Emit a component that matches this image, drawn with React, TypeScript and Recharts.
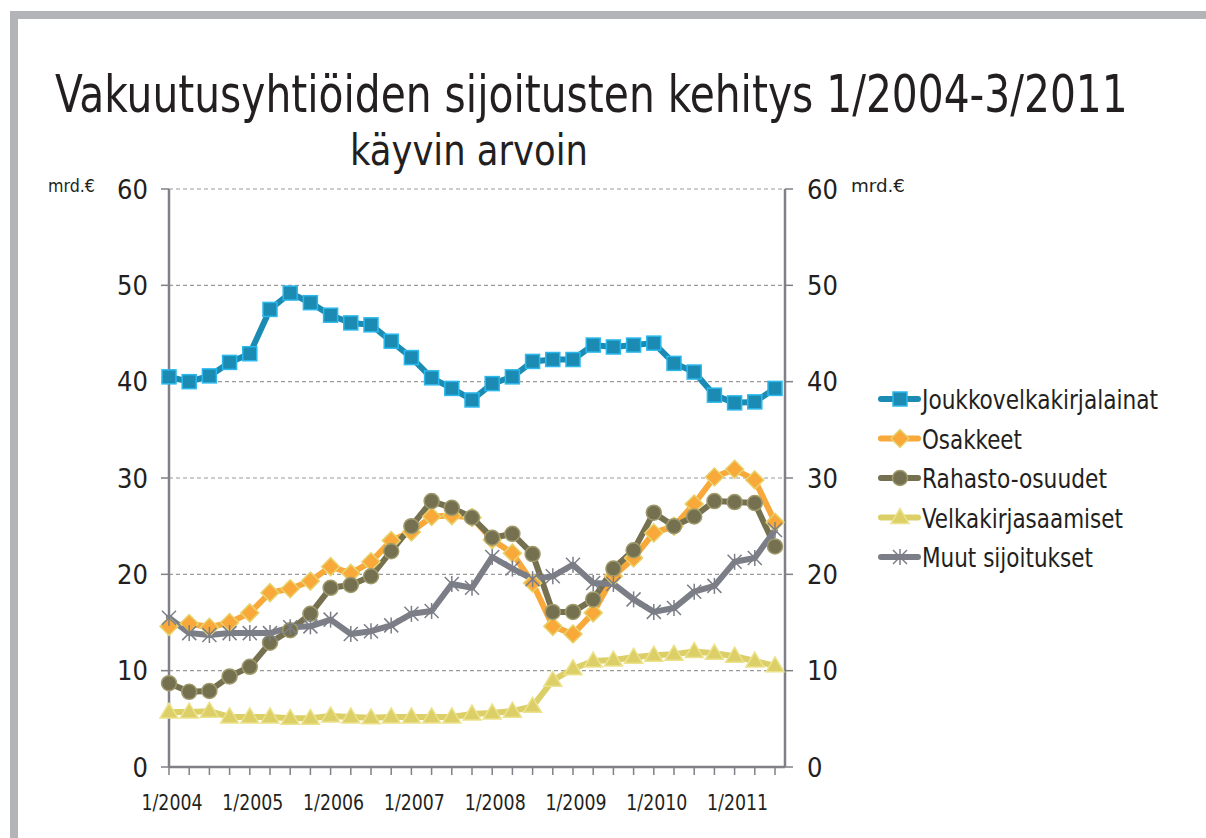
import { useLayoutEffect, useRef, useState } from 'react';
import { CartesianGrid, Line, LineChart, XAxis, YAxis } from 'recharts';

const quarters = [
  '1/2004', '2/2004', '3/2004', '4/2004',
  '1/2005', '2/2005', '3/2005', '4/2005',
  '1/2006', '2/2006', '3/2006', '4/2006',
  '1/2007', '2/2007', '3/2007', '4/2007',
  '1/2008', '2/2008', '3/2008', '4/2008',
  '1/2009', '2/2009', '3/2009', '4/2009',
  '1/2010', '2/2010', '3/2010', '4/2010',
  '1/2011', '2/2011', '3/2011'
];

const joukko = [40.5, 40.0, 40.6, 42.0, 42.9, 47.5, 49.2, 48.2, 46.9, 46.1, 45.9, 44.2, 42.5, 40.4, 39.3, 38.1, 39.8, 40.5, 42.1, 42.3, 42.3, 43.8, 43.6, 43.8, 44.0, 41.9, 41.0, 38.6, 37.8, 37.9, 39.3];
const osakkeet = [14.6, 14.9, 14.5, 15.0, 16.0, 18.1, 18.5, 19.3, 20.8, 20.1, 21.3, 23.5, 24.4, 26.0, 26.1, 25.9, 23.6, 22.2, 19.1, 14.6, 13.8, 16.0, 19.8, 21.7, 24.3, 25.0, 27.3, 30.1, 30.9, 29.8, 25.4];
const rahasto = [8.7, 7.8, 7.9, 9.4, 10.4, 12.9, 14.2, 15.9, 18.6, 18.9, 19.8, 22.4, 25.0, 27.6, 26.9, 25.9, 23.8, 24.2, 22.1, 16.1, 16.1, 17.4, 20.6, 22.5, 26.4, 25.0, 26.0, 27.6, 27.5, 27.4, 22.9];
const velka = [5.7, 5.7, 5.8, 5.2, 5.2, 5.2, 5.05, 5.05, 5.3, 5.2, 5.1, 5.2, 5.2, 5.2, 5.2, 5.5, 5.6, 5.8, 6.3, 9.0, 10.2, 11.0, 11.1, 11.4, 11.6, 11.7, 12.0, 11.8, 11.5, 11.0, 10.5];
const muut = [15.5, 13.9, 13.7, 13.9, 13.9, 13.9, 14.5, 14.6, 15.3, 13.8, 14.1, 14.7, 15.9, 16.2, 19.0, 18.6, 21.8, 20.6, 19.5, 19.8, 21.0, 19.1, 19.0, 17.4, 16.1, 16.5, 18.2, 18.8, 21.3, 21.7, 24.6];

const yTicks = [0, 10, 20, 30, 40, 50, 60];

const data = quarters.map((q, i) => ({
  q,
  joukko: joukko[i],
  osakkeet: osakkeet[i],
  rahasto: rahasto[i],
  velka: velka[i],
  muut: muut[i]
}));

const font = '"DejaVu Sans Condensed", "DejaVu Sans", sans-serif';
const ink = '#231f20';
const axisGray = '#808086';

const blue = '#1b8bb3';
const orange = '#f9a83a';
const olive = '#75704f';
const yellow = '#dccf67';
const gray = '#7c7e87';

type Shape = 'square' | 'diamond' | 'circle' | 'triangle' | 'star';

function Marker({ shape, cx, cy }: { shape: Shape; cx: number; cy: number }) {
  if (shape === 'square') {
    return <rect x={cx - 7} y={cy - 7} width={14} height={14} fill={blue} stroke="#2bb8ec" strokeWidth={1.5} />;
  }
  if (shape === 'diamond') {
    return <path d={`M${cx},${cy - 9}L${cx + 9},${cy}L${cx},${cy + 9}L${cx - 9},${cy}Z`} fill={orange} stroke="#e6d36c" strokeWidth={1.5} />;
  }
  if (shape === 'circle') {
    return <circle cx={cx} cy={cy} r={7.5} fill={olive} stroke="#9e9a6c" strokeWidth={1.5} />;
  }
  if (shape === 'triangle') {
    return <path d={`M${cx},${cy - 9}L${cx + 9},${cy + 6}L${cx - 9},${cy + 6}Z`} fill={yellow} stroke="#ece28c" strokeWidth={1.5} />;
  }
  return (
    <g stroke={gray} strokeWidth={1.5}>
      <line x1={cx - 7} y1={cy - 7} x2={cx + 7} y2={cy + 7} />
      <line x1={cx - 7} y1={cy + 7} x2={cx + 7} y2={cy - 7} />
      <line x1={cx} y1={cy - 8} x2={cx} y2={cy + 8} />
    </g>
  );
}

const dotFor = (shape: Shape) => (props: any) => (
  <Marker key={`${shape}-${props.index}`} shape={shape} cx={props.cx} cy={props.cy} />
);

const series: { key: string; name: string; color: string; shape: Shape; axis: string; w: number }[] = [
  { key: 'joukko', name: 'Joukkovelkakirjalainat', color: blue, shape: 'square', axis: 'left', w: 236 },
  { key: 'osakkeet', name: 'Osakkeet', color: orange, shape: 'diamond', axis: 'left', w: 100 },
  { key: 'rahasto', name: 'Rahasto-osuudet', color: olive, shape: 'circle', axis: 'left', w: 185 },
  { key: 'velka', name: 'Velkakirjasaamiset', color: yellow, shape: 'triangle', axis: 'left', w: 201 },
  { key: 'muut', name: 'Muut sijoitukset', color: gray, shape: 'star', axis: 'right', w: 171 }
];

// scales a text horizontally so that it fills the given width
function FitText({ x, y, width, fontSize, children }: { x: number; y: number; width: number; fontSize: number; children: string }) {
  const ref = useRef<SVGTextElement>(null);
  const [sx, setSx] = useState(1);
  useLayoutEffect(() => {
    if (ref.current) {
      const w = ref.current.getComputedTextLength();
      if (w > 0) setSx(width / w);
    }
  }, [width]);
  return (
    <text ref={ref} transform={`translate(${x},${y}) scale(${sx},1)`} fontFamily={font} fontSize={fontSize} fill={ink}>
      {children}
    </text>
  );
}

function XTick({ x, y, payload }: any) {
  const v: string = payload.value;
  if (!v.startsWith('1/')) return <g />;
  return (
    <text x={x + 3} y={y + 33} textAnchor="middle" fontFamily={font} fontSize={22} fill={ink} textLength={61} lengthAdjust="spacingAndGlyphs">
      {v}
    </text>
  );
}

function YTick({ x, y, payload, textAnchor }: any) {
  return (
    <text x={x} y={y} dy="0.36em" textAnchor={textAnchor} fontFamily={font} fontSize={27} fill={ink}>
      {payload.value}
    </text>
  );
}

export default function App() {
  return (
    <div style={{ position: 'absolute', left: 0, top: 0, width: 1206, height: 838, background: '#fff', overflow: 'hidden' }}>
      <div style={{ position: 'absolute', left: 10, top: 11, right: 0, bottom: 0, borderTop: '8px solid #b3b4b7', borderLeft: '8px solid #b3b4b7' }} />
      <div style={{ position: 'absolute', left: 0, top: 0 }}>
        <LineChart width={1206} height={838} data={data} margin={{ top: 189, right: 361, bottom: 31, left: 0 }}>
          <CartesianGrid yAxisId="left" vertical={false} stroke="#9a9a9a" strokeDasharray="4 3" strokeWidth={1.2} />
          <XAxis
            dataKey="q"
            interval={0}
            height={40}
            padding={{ left: 0, right: 10 }}
            stroke={axisGray}
            strokeWidth={2.5}
            tickSize={8}
            tickLine={{ stroke: axisGray, strokeWidth: 1.5 }}
            tick={<XTick />}
          />
          <YAxis
            yAxisId="left"
            domain={[0, 60]}
            ticks={yTicks}
            allowDataOverflow
            width={169}
            stroke={axisGray}
            strokeWidth={2.5}
            tickSize={8}
            tickMargin={13}
            tickLine={{ stroke: axisGray, strokeWidth: 1.5 }}
            tick={<YTick />}
          />
          <YAxis
            yAxisId="right"
            orientation="right"
            domain={[0, 60]}
            ticks={yTicks}
            allowDataOverflow
            width={60}
            stroke={axisGray}
            strokeWidth={2.5}
            tickSize={8}
            tickMargin={14}
            tickLine={{ stroke: axisGray, strokeWidth: 1.5 }}
            tick={<YTick />}
          />
          {series.map((s) => (
            <Line
              key={s.key}
              yAxisId={s.axis}
              type="linear"
              dataKey={s.key}
              name={s.name}
              stroke={s.color}
              strokeWidth={6}
              strokeLinejoin="round"
              strokeLinecap="round"
              dot={dotFor(s.shape)}
              activeDot={false}
              isAnimationActive={false}
            />
          ))}
        </LineChart>
      </div>
      <svg width={1206} height={838} style={{ position: 'absolute', left: 0, top: 0, pointerEvents: 'none' }}>
        <FitText x={55} y={112} width={1073} fontSize={51}>Vakuutusyhtiöiden sijoitusten kehitys 1/2004-3/2011</FitText>
        <FitText x={350} y={165} width={238} fontSize={42}>käyvin arvoin</FitText>
        <FitText x={48} y={192} width={47} fontSize={18}>mrd.€</FitText>
        <FitText x={851} y={192} width={54} fontSize={18}>mrd.€</FitText>
        {series.map((s, i) => {
          const cy = 399 + i * 39.5;
          return (
            <g key={s.key}>
              <line x1={881} y1={cy} x2={918} y2={cy} stroke={s.color} strokeWidth={6} strokeLinecap="round" />
              <Marker shape={s.shape} cx={900} cy={cy} />
              <FitText x={922} y={cy + 10} width={s.w} fontSize={27}>{s.name}</FitText>
            </g>
          );
        })}
      </svg>
    </div>
  );
}
